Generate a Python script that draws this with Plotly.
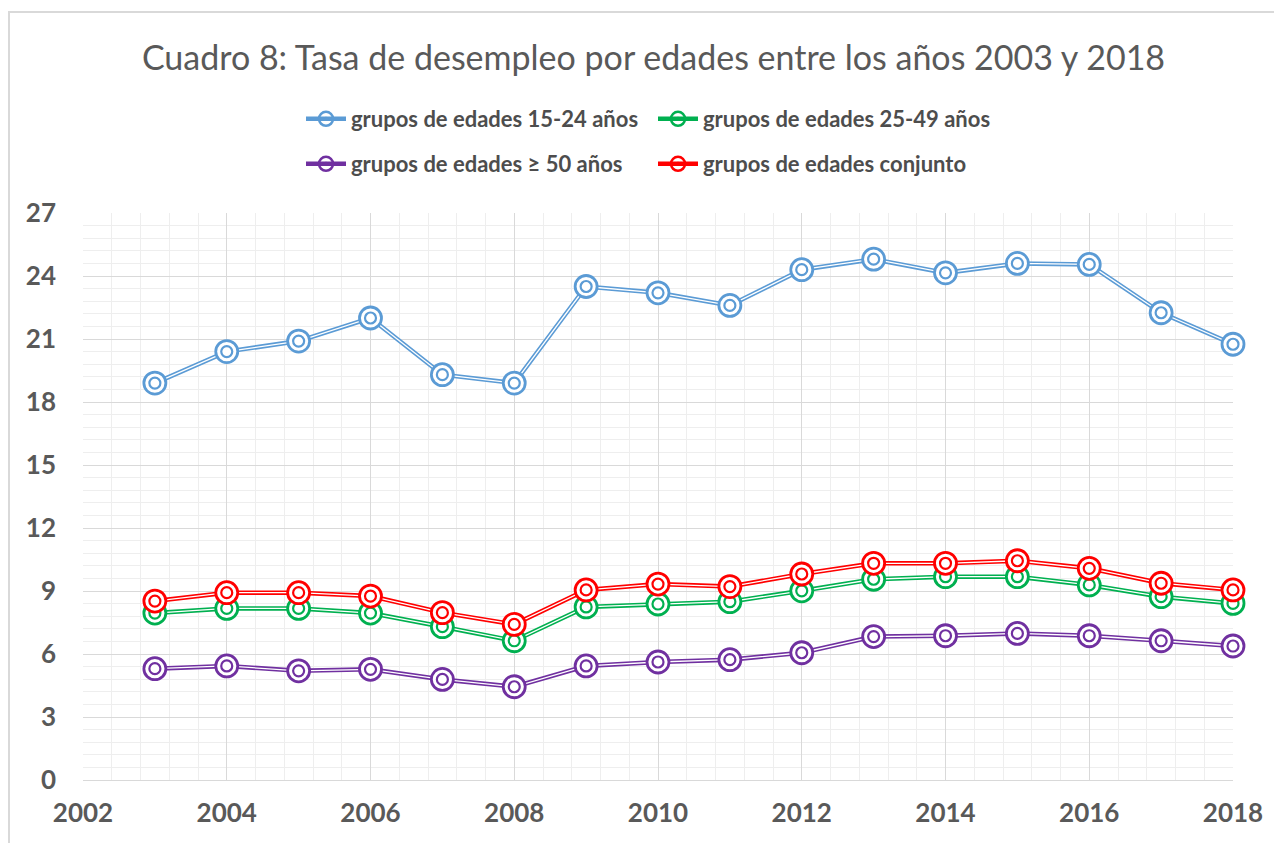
import plotly.graph_objects as go

years = list(range(2003, 2019))
g15_24 = [18.9, 20.4, 20.9, 22.0, 19.3, 18.9, 23.5, 23.2, 22.6, 24.3, 24.8, 24.15, 24.6, 24.55, 22.25, 20.75]
g25_49 = [7.95, 8.17, 8.17, 7.95, 7.3, 6.63, 8.24, 8.38, 8.49, 9.01, 9.56, 9.68, 9.68, 9.29, 8.73, 8.41]
g50 = [5.3, 5.43, 5.2, 5.27, 4.79, 4.44, 5.43, 5.62, 5.73, 6.06, 6.83, 6.87, 6.98, 6.87, 6.63, 6.38]
gall = [8.52, 8.92, 8.92, 8.76, 7.97, 7.41, 9.05, 9.33, 9.21, 9.81, 10.32, 10.32, 10.44, 10.08, 9.37, 9.05]

names = ["grupos de edades 15-24 años", "grupos de edades 25-49 años",
         "grupos de edades ≥ 50 años", "grupos de edades conjunto"]
colors = ["#5B9BD5", "#00B050", "#7030A0", "#FF0000"]
series = [g15_24, g25_49, g50, gall]
legends = ["legend", "legend", "legend2", "legend2"]

fig = go.Figure()
for vals, name, col, lg in zip(series, names, colors, legends):
    fig.add_trace(go.Scatter(x=years, y=vals, name=name, mode="lines+markers",
                             line=dict(color=col, width=4.5), cliponaxis=False,
                             marker=dict(symbol="circle-open-dot", size=14, color=col,
                                         line=dict(width=2.5, color=col)),
                             legend=lg))
    fig.add_trace(go.Scatter(x=years, y=vals, mode="lines", showlegend=False,
                             line=dict(color="white", width=1.3), hoverinfo="skip",
                             cliponaxis=False))
    fig.add_trace(go.Scatter(x=years, y=vals, mode="markers", showlegend=False,
                             marker=dict(symbol="circle", size=22, color="white",
                                         line=dict(width=2.8, color=col)),
                             hoverinfo="skip", cliponaxis=False))
    fig.add_trace(go.Scatter(x=years, y=vals, mode="markers", showlegend=False,
                             marker=dict(symbol="circle-open", size=11, color=col,
                                         line=dict(width=2.2, color=col)),
                             hoverinfo="skip", cliponaxis=False))

OFF = 8  # page offset of the figure (body margin)
W, H = 1274, 835
l, t = 83 - OFF, 213 - OFF
pw, ph = 1150, 567
r = W - l - pw
b = H - t - ph

def px_x(page_x):
    return (page_x - OFF - l) / pw

def px_y(page_y):
    return (t + ph - (page_y - OFF)) / ph

legfont = dict(family="Lato", size=22, color="#4D4D4D", weight="bold")
tickfont = dict(family="Lato", size=26, color="#595959", weight="bold")

fig.update_layout(
    width=W, height=H,
    margin=dict(l=l, r=r, t=t, b=b),
    paper_bgcolor="white", plot_bgcolor="white",
    title=dict(text="Cuadro 8: Tasa de desempleo por edades entre los años 2003 y 2018",
               x=(653.5 - OFF) / W, xanchor="center", xref="container",
               y=1 - (58 - OFF) / H, yref="container", yanchor="middle",
               font=dict(family="Lato", size=34, color="#595959")),
    legend=dict(orientation="h", x=px_x(301), xanchor="left", y=px_y(119), yanchor="middle",
                entrywidth=297, entrywidthmode="pixels", font=legfont,
                bgcolor="rgba(0,0,0,0)", itemwidth=40),
    legend2=dict(orientation="h", x=px_x(301), xanchor="left", y=px_y(164), yanchor="middle",
                 entrywidth=297, entrywidthmode="pixels", font=legfont,
                 bgcolor="rgba(0,0,0,0)", itemwidth=40),
    showlegend=True,
    shapes=[dict(type="rect", xref="paper", yref="paper",
                 x0=px_x(9), x1=px_x(1400), y0=px_y(1000), y1=px_y(12),
                 line=dict(color="#D9D9D9", width=2), fillcolor="rgba(0,0,0,0)", layer="below")],
)

fig.update_xaxes(range=[2002, 2018], tick0=2002, dtick=2, showgrid=True,
                 gridcolor="#D9D9D9", gridwidth=1, zeroline=False,
                 showline=True, linecolor="#D9D9D9", linewidth=1, mirror=False,
                 ticks="", ticklabelstandoff=10, tickfont=tickfont,
                 minor=dict(dtick=0.4, showgrid=True, gridcolor="#EEEEEE", gridwidth=1))
fig.update_yaxes(range=[0, 27], tick0=0, dtick=3, showgrid=True,
                 gridcolor="#D9D9D9", gridwidth=1, zeroline=False,
                 showline=False, ticks="", ticklabelstandoff=26, tickfont=tickfont,
                 minor=dict(dtick=0.6, showgrid=True, gridcolor="#EEEEEE", gridwidth=1))

fig.write_html("out.html")
